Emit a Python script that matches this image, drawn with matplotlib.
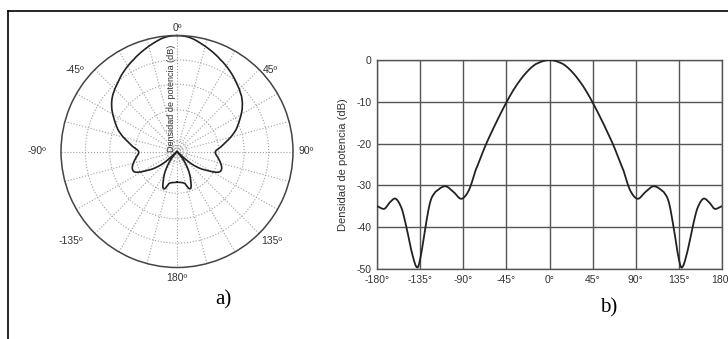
import numpy as np
import matplotlib
matplotlib.use('Agg')
import matplotlib.pyplot as plt
from matplotlib.lines import Line2D

plt.rcParams['font.family'] = ['Liberation Sans', 'DejaVu Sans']
plt.rcParams['axes.unicode_minus'] = False

# Polar pattern (a): angle in degrees, normalized radius
polar_ang = [-180, -172, -166, -162, -159, -155, -150, -145, -140, -135, -131, -126, -122,
             -118, -115, -110, -103, -97, -92, -88, -84, -80, -75, -70, -63, -57, -50,
             -45, -35, -25, -20, -12, -6, 0, 6, 12, 20, 25, 35, 45, 50, 57, 63, 70, 75,
             80, 84, 88, 92, 97, 103, 110, 115, 118, 122, 126, 131, 135, 140, 145, 150,
             155, 159, 162, 166, 172, 180]
polar_r = [0.265, 0.27, 0.285, 0.335, 0.335, 0.28, 0.21, 0.13, 0.06, 0.0, 0.15, 0.25, 0.31,
           0.38, 0.41, 0.41, 0.38, 0.35, 0.33, 0.34, 0.38, 0.42, 0.48, 0.54, 0.607, 0.67,
           0.728, 0.76, 0.82, 0.877, 0.91, 0.957, 0.99, 1.0, 0.99, 0.957, 0.91, 0.877,
           0.82, 0.76, 0.728, 0.67, 0.607, 0.54, 0.48, 0.42, 0.38, 0.34, 0.33, 0.35,
           0.38, 0.41, 0.41, 0.38, 0.31, 0.25, 0.15, 0.0, 0.06, 0.13, 0.21, 0.28, 0.335,
           0.335, 0.285, 0.27, 0.265]
polar_rings = [0.05, 0.09, 0.36, 0.58, 0.79]
polar_lbl = ['0º', '45º', '90º', '135º', '180º', '-135º', '-90º', '-45º']
# where each angle label sits: direction (deg) and distance (in radius units)
polar_lbl_ang = [0, 48.8, 90, 133.3, 180, -130.2, -90, -51.4]
polar_lbl_r = [1.065, 1.066, 1.11, 1.125, 1.09, 1.196, 1.21, 1.126]

# Cartesian pattern (b): angle in degrees, power density in dB
lin_ang = [-180, -172.3, -166.4, -160.4, -154.1, -148.9, -143.7, -138.4, -135, -129.8,
           -124.5, -119.3, -108.8, -100, -91.9, -84.2, -77.2, -66.7, -56.2, -45, -35.5,
           -25, -14.5, 0, 14.5, 25, 35.5, 45, 56.2, 66.7, 77.2, 84.2, 91.9, 100, 108.8,
           119.3, 124.5, 129.8, 135, 138.4, 143.7, 148.9, 154.1, 160.4, 166.4, 172.3, 180]
lin_db = [-35.0, -35.6, -34.0, -33.2, -35.6, -40.4, -46.0, -49.6, -47.6, -40.4, -34.0,
          -31.6, -30.2, -31.6, -33.2, -31.2, -26.4, -20.4, -15.2, -10.2, -6.4, -3.2,
          -1.0, 0.0, -1.0, -3.2, -6.4, -10.2, -15.2, -20.4, -26.4, -31.2, -33.2, -31.6,
          -30.2, -31.6, -34.0, -40.4, -47.6, -49.6, -46.0, -40.4, -35.6, -33.2, -34.0,
          -35.6, -35.0]
lin_xticks = [-180, -135, -90, -45, 0, 45, 90, 135, 180]
lin_xlbl = ['-180°', '-135°', '-90°', '-45°', '0°', '45°', '90°', '135°', '180°']
lin_yticks = [0, -10, -20, -30, -40, -50]

W, H = 728, 339
fig = plt.figure(figsize=(W / 100, H / 100), dpi=100)

# smooth curves through the read points (cubic Catmull-Rom between them)
def smooth(xs, ys, n=900):
    xs = np.asarray(xs, float)
    ys = np.asarray(ys, float)
    xf = np.linspace(xs[0], xs[-1], n)
    out = np.empty_like(xf)
    for i, x in enumerate(xf):
        k = np.searchsorted(xs, x) - 1
        k = min(max(k, 0), len(xs) - 2)
        p0 = ys[max(k - 1, 0)]
        p1 = ys[k]
        p2 = ys[k + 1]
        p3 = ys[min(k + 2, len(xs) - 1)]
        t = (x - xs[k]) / (xs[k + 1] - xs[k])
        out[i] = 0.5 * ((2 * p1) + (-p0 + p2) * t + (2 * p0 - 5 * p1 + 4 * p2 - p3) * t ** 2
                        + (-p0 + 3 * p1 - 3 * p2 + p3) * t ** 3)
    return xf, out

# ---- a) polar
axp = fig.add_axes([61 / W, 1 - 267.5 / H, 232 / W, 232 / H], projection='polar')
axp.set_theta_zero_location('N')
axp.set_theta_direction(-1)
pa, pr = smooth(polar_ang, polar_r)
axp.plot(np.radians(pa), np.clip(pr, 0, 1), color='#222222', lw=1.2)
axp.set_rlim(0, 1)
axp.set_rgrids(polar_rings, labels=[''] * len(polar_rings))
axp.set_thetagrids(list(range(0, 360, 15)), labels=[''] * 24)
axp.grid(True, color='#a0a0a0', linestyle=':', linewidth=0.8)
axp.spines['polar'].set_color('#444444')
axp.spines['polar'].set_linewidth(1.1)
for lbl, a, r in zip(polar_lbl, polar_lbl_ang, polar_lbl_r):
    axp.text(np.radians(a), r, lbl, ha='center', va='center', fontsize=7.5,
             color='#333333', clip_on=False)
fig.text(172 / W, 1 - 152 / H, 'Densidad de potencia (dB)', rotation=90,
         ha='center', va='bottom', fontsize=6.5, color='#333333')

# ---- b) cartesian
axl = fig.add_axes([377 / W, 1 - 269 / H, 345 / W, 209 / H])
la, ld = smooth(lin_ang, lin_db)
axl.plot(la, ld, color='#222222', lw=1.3, zorder=3)
axl.set_xlim(-180, 180)
axl.set_ylim(-50, 0)
axl.set_xticks(lin_xticks)
axl.set_xticklabels(lin_xlbl)
axl.set_yticks(lin_yticks)
axl.grid(True, color='#555555', linewidth=1.0)
for s in axl.spines.values():
    s.set_color('#555555')
    s.set_linewidth(1.0)
axl.tick_params(length=0, labelsize=7.5, colors='#333333', pad=4)
axl.set_ylabel('Densidad de potencia (dB)', fontsize=8, color='#333333', labelpad=6)

fig.text(223 / W, 1 - 300 / H, 'a)', family='Liberation Serif', fontsize=15,
         ha='center', va='center')
fig.text(609 / W, 1 - 308 / H, 'b)', family='Liberation Serif', fontsize=15,
         ha='center', va='center')

# page frame (only top and left edges visible)
fig.add_artist(Line2D([7.5 / W, 7.5 / W], [0, 1 - 10.5 / H], transform=fig.transFigure,
                      color='black', lw=1.2))
fig.add_artist(Line2D([7.5 / W, 1], [1 - 10.5 / H, 1 - 10.5 / H], transform=fig.transFigure,
                      color='black', lw=1.2))

fig.savefig('out.png', dpi=100)
